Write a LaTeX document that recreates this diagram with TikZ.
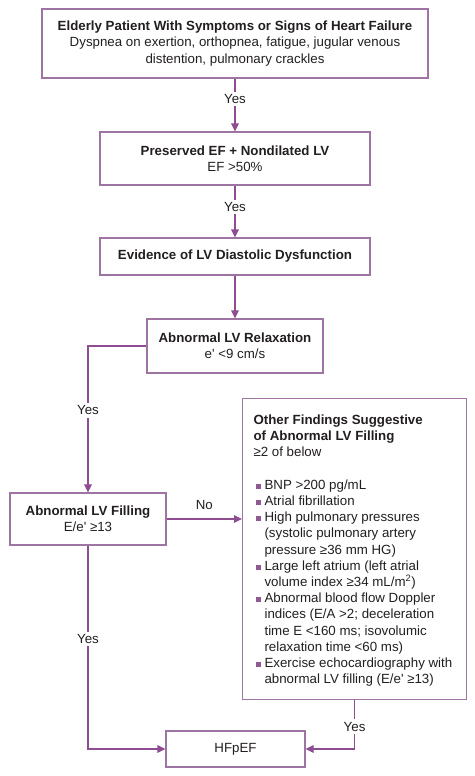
\documentclass[tikz,border=0pt]{standalone}
\usepackage{fontspec}
\setmainfont{Liberation Sans}
\usetikzlibrary{arrows.meta}
\definecolor{arr}{HTML}{8E4C91}
\definecolor{brd}{HTML}{9E74A2}
\definecolor{bulc}{HTML}{8E5A91}
\definecolor{txt}{HTML}{231F20}
\newcommand\bulitem{\par\hangindent=11pt\hangafter=1\noindent\makebox[11pt][l]{\hspace{2pt}\textcolor{bulc}{\rule[0.8pt]{5pt}{5pt}}}}
\begin{document}
\begin{tikzpicture}[x=1pt,y=-1pt,
  font=\fontsize{13.3}{16.2}\selectfont,
  box/.style={draw=brd, line width=1.1pt, fill=white, align=center, inner sep=0pt, text=txt},
  conn/.style={draw=arr, line width=1.4pt},
  arrowc/.style={conn, -{Triangle[length=8pt,width=7.5pt]}},
  lab/.style={fill=white, inner sep=2.5pt, text=txt}]
\useasboundingbox (0,0) rectangle (474,776);
\node[box, minimum width=386pt, minimum height=69pt] (b1) at (235,43.5)
  {\textbf{Elderly Patient With Symptoms or Signs of Heart Failure}\\
   Dyspnea on exertion, orthopnea, fatigue, jugular venous\\
   distention, pulmonary crackles};
\node[box, minimum width=270pt, minimum height=53pt] (b2) at (235,158.5)
  {\textbf{Preserved EF + Nondilated LV}\\EF >50\%};
\node[box, minimum width=270pt, minimum height=37pt] (b3) at (235,256.5)
  {\textbf{Evidence of LV Diastolic Dysfunction}};
\node[box, minimum width=176pt, minimum height=54pt] (b4) at (235,346)
  {\textbf{Abnormal LV Relaxation}\\e\textquotesingle\ <9 cm/s};
\node[box, minimum width=156pt, minimum height=52pt] (b5) at (88,519)
  {\textbf{Abnormal LV Filling}\\E/e\textquotesingle\ ≥13};
\node[box, anchor=north west, align=left] (b6) at (242,398)
  {\begin{minipage}[c][301pt][t]{224pt}%
   \fontsize{13.3}{16.2}\selectfont
   \leftskip=11pt \rightskip=0pt plus 1fil \parindent=0pt \parskip=0pt
   \rule{0pt}{26pt}\textbf{Other Findings Suggestive}\\
   \textbf{of Abnormal LV Filling}\\
   ≥2 of below\par\vspace{16.2pt}
   \bulitem BNP >200 pg/mL
   \bulitem Atrial fibrillation
   \bulitem High pulmonary pressures\\(systolic pulmonary artery\\pressure ≥36 mm HG)
   \bulitem Large left atrium (left atrial\\volume index ≥34 mL/m\textsuperscript{2})
   \bulitem Abnormal blood flow Doppler\\indices (E/A >2; deceleration\\time E <160 ms; isovolumic\\relaxation time <60 ms)
   \bulitem Exercise echocardiography with\\abnormal LV filling (E/e\textquotesingle\ ≥13)\par
   \end{minipage}};
\node[box, minimum width=139pt, minimum height=36pt] (b7) at (235.5,749) {HFpEF};
\draw[arrowc] (b1.south) -- node[lab, pos=0.39] {Yes} (b2.north);
\draw[arrowc] (b2.south) -- node[lab, pos=0.415] {Yes} (b3.north);
\draw[arrowc] (b3.south) -- (b4.north);
\draw[arrowc] (b4.west) -| node[lab, pos=0.72] {Yes} (b5.north);
\draw[arrowc] (b5.east) -- node[text=txt, anchor=south, yshift=5pt] {No} (b5.east -| b6.west);
\draw[arrowc] (b5.south) |- node[lab, pos=0.23] {Yes} (b7.west);
\draw[arrowc] (b6.south) |- node[lab, pos=0.27] {Yes} (b7.east);
\end{tikzpicture}
\end{document}
